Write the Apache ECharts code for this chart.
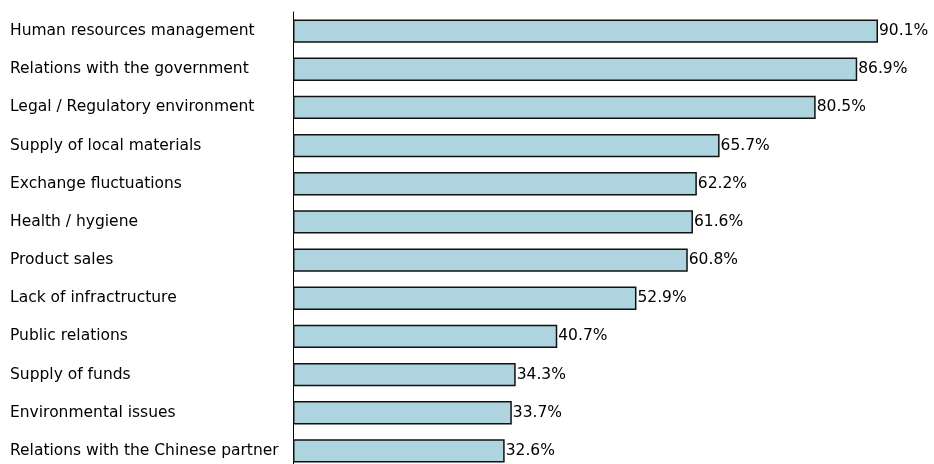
<!DOCTYPE html>
<html>
<head>
<meta charset="utf-8">
<script src="https://cdn.jsdelivr.net/npm/echarts@6/dist/echarts.min.js"></script>
<style>html,body{margin:0;padding:0;background:#fff;overflow:hidden;width:934px;height:464px}#c{width:934px;height:470px}</style>
</head>
<body>
<div id="c"></div>
<script>
const categories = [
  "Human resources management",
  "Relations with the government",
  "Legal / Regulatory environment",
  "Supply of local materials",
  "Exchange fluctuations",
  "Health / hygiene",
  "Product sales",
  "Lack of infractructure",
  "Public relations",
  "Supply of funds",
  "Environmental issues",
  "Relations with the Chinese partner"
];
const values = [90.1, 86.9, 80.5, 65.7, 62.2, 61.6, 60.8, 52.9, 40.7, 34.3, 33.7, 32.6];

const chart = echarts.init(document.getElementById('c'), null, {renderer: 'canvas'});
chart.setOption({
  animation: false,
  backgroundColor: '#ffffff',
  grid: {left: 293, right: 56, top: 12, bottom: 0, containLabel: false},
  xAxis: {
    type: 'value', min: 0, max: function (v) { return v.max; },
    show: false, splitLine: {show: false}
  },
  yAxis: {
    type: 'category', inverse: true, data: categories,
    axisLine: {show: true, lineStyle: {color: '#000', width: 1}},
    axisTick: {show: false},
    axisLabel: {
      align: 'left', margin: 283, color: '#000',
      fontFamily: 'DejaVu Sans', fontSize: 15.5
    }
  },
  series: [{
    type: 'bar', data: values, barCategoryGap: '39%',
    itemStyle: {color: '#aed4df', borderColor: '#111', borderWidth: 1.5},
    label: {
      show: true, position: 'right', distance: 1, color: '#000',
      fontFamily: 'DejaVu Sans', fontSize: 15.5,
      formatter: function (p) { return p.value.toFixed(1) + '%'; }
    }
  }]
});
</script>
</body>
</html>
